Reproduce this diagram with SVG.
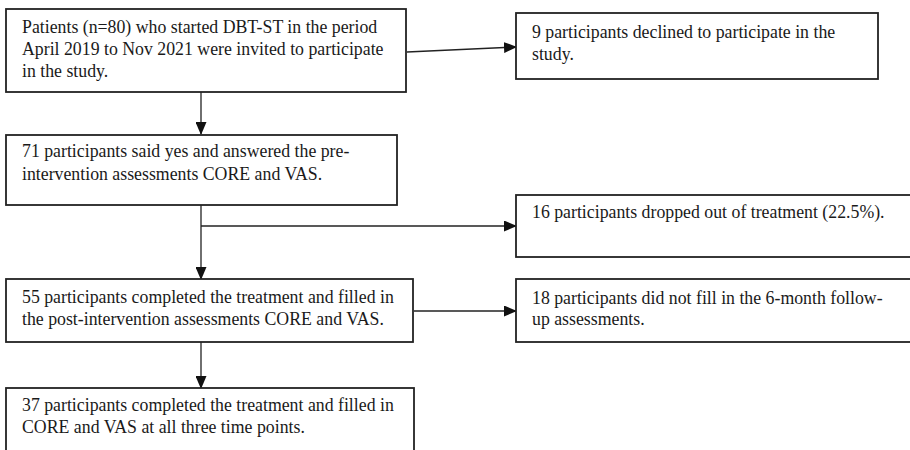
<svg xmlns="http://www.w3.org/2000/svg" width="910" height="450" viewBox="0 0 910 450">
<defs>
<style>
.box{fill:#fff;stroke:#222;stroke-width:1.8}
.lbl{font-family:"Liberation Serif","Times New Roman",serif;font-size:17.8px;fill:#1a1a1a}
.con{stroke:#222;stroke-width:1.3;fill:none}
</style>
<marker id="ah" markerWidth="13" markerHeight="11" refX="12" refY="5.5" orient="auto" markerUnits="userSpaceOnUse">
<path d="M0,0 L13,5.5 L0,11 Z" fill="#111"/>
</marker>
</defs>
<rect width="910" height="450" fill="#fff"/>
<g id="connectors">
<line class="con" x1="407" y1="52" x2="516" y2="47" marker-end="url(#ah)"/>
<line class="con" x1="201" y1="92" x2="201" y2="134" marker-end="url(#ah)"/>
<line class="con" x1="201" y1="205" x2="201" y2="279" marker-end="url(#ah)"/>
<line class="con" x1="201" y1="226" x2="516" y2="226" marker-end="url(#ah)"/>
<line class="con" x1="414" y1="311" x2="516" y2="311" marker-end="url(#ah)"/>
<line class="con" x1="201" y1="342" x2="201" y2="388" marker-end="url(#ah)"/>
</g>
<g id="n1">
<rect class="box" x="6" y="9" width="400" height="83"/>
<text class="lbl" x="22" y="33">Patients (n=80) who started DBT-ST in the period</text>
<text class="lbl" x="22" y="55">April 2019 to Nov 2021 were invited to participate</text>
<text class="lbl" x="22" y="77">in the study.</text>
</g>
<g id="n2">
<rect class="box" x="516" y="13" width="362" height="66"/>
<text class="lbl" x="532" y="38">9 participants declined to participate in the</text>
<text class="lbl" x="532" y="60">study.</text>
</g>
<g id="n3">
<rect class="box" x="6" y="135" width="391" height="70"/>
<text class="lbl" x="22" y="157">71 participants said yes and answered the pre-</text>
<text class="lbl" x="22" y="180">intervention assessments CORE and VAS.</text>
</g>
<g id="n4">
<rect class="box" x="516" y="195" width="400" height="62"/>
<text class="lbl" x="532" y="218">16 participants dropped out of treatment (22.5%).</text>
</g>
<g id="n5">
<rect class="box" x="6" y="279" width="407" height="63"/>
<text class="lbl" x="22" y="303">55 participants completed the treatment and filled in</text>
<text class="lbl" x="22" y="325">the post-intervention assessments CORE and VAS.</text>
</g>
<g id="n6">
<rect class="box" x="516" y="279" width="400" height="63"/>
<text class="lbl" x="532" y="304">18 participants did not fill in the 6-month follow-</text>
<text class="lbl" x="532" y="325">up assessments.</text>
</g>
<g id="n7">
<rect class="box" x="6" y="388" width="408" height="70"/>
<text class="lbl" x="22" y="411">37 participants completed the treatment and filled in</text>
<text class="lbl" x="22" y="433">CORE and VAS at all three time points.</text>
</g>
</svg>
